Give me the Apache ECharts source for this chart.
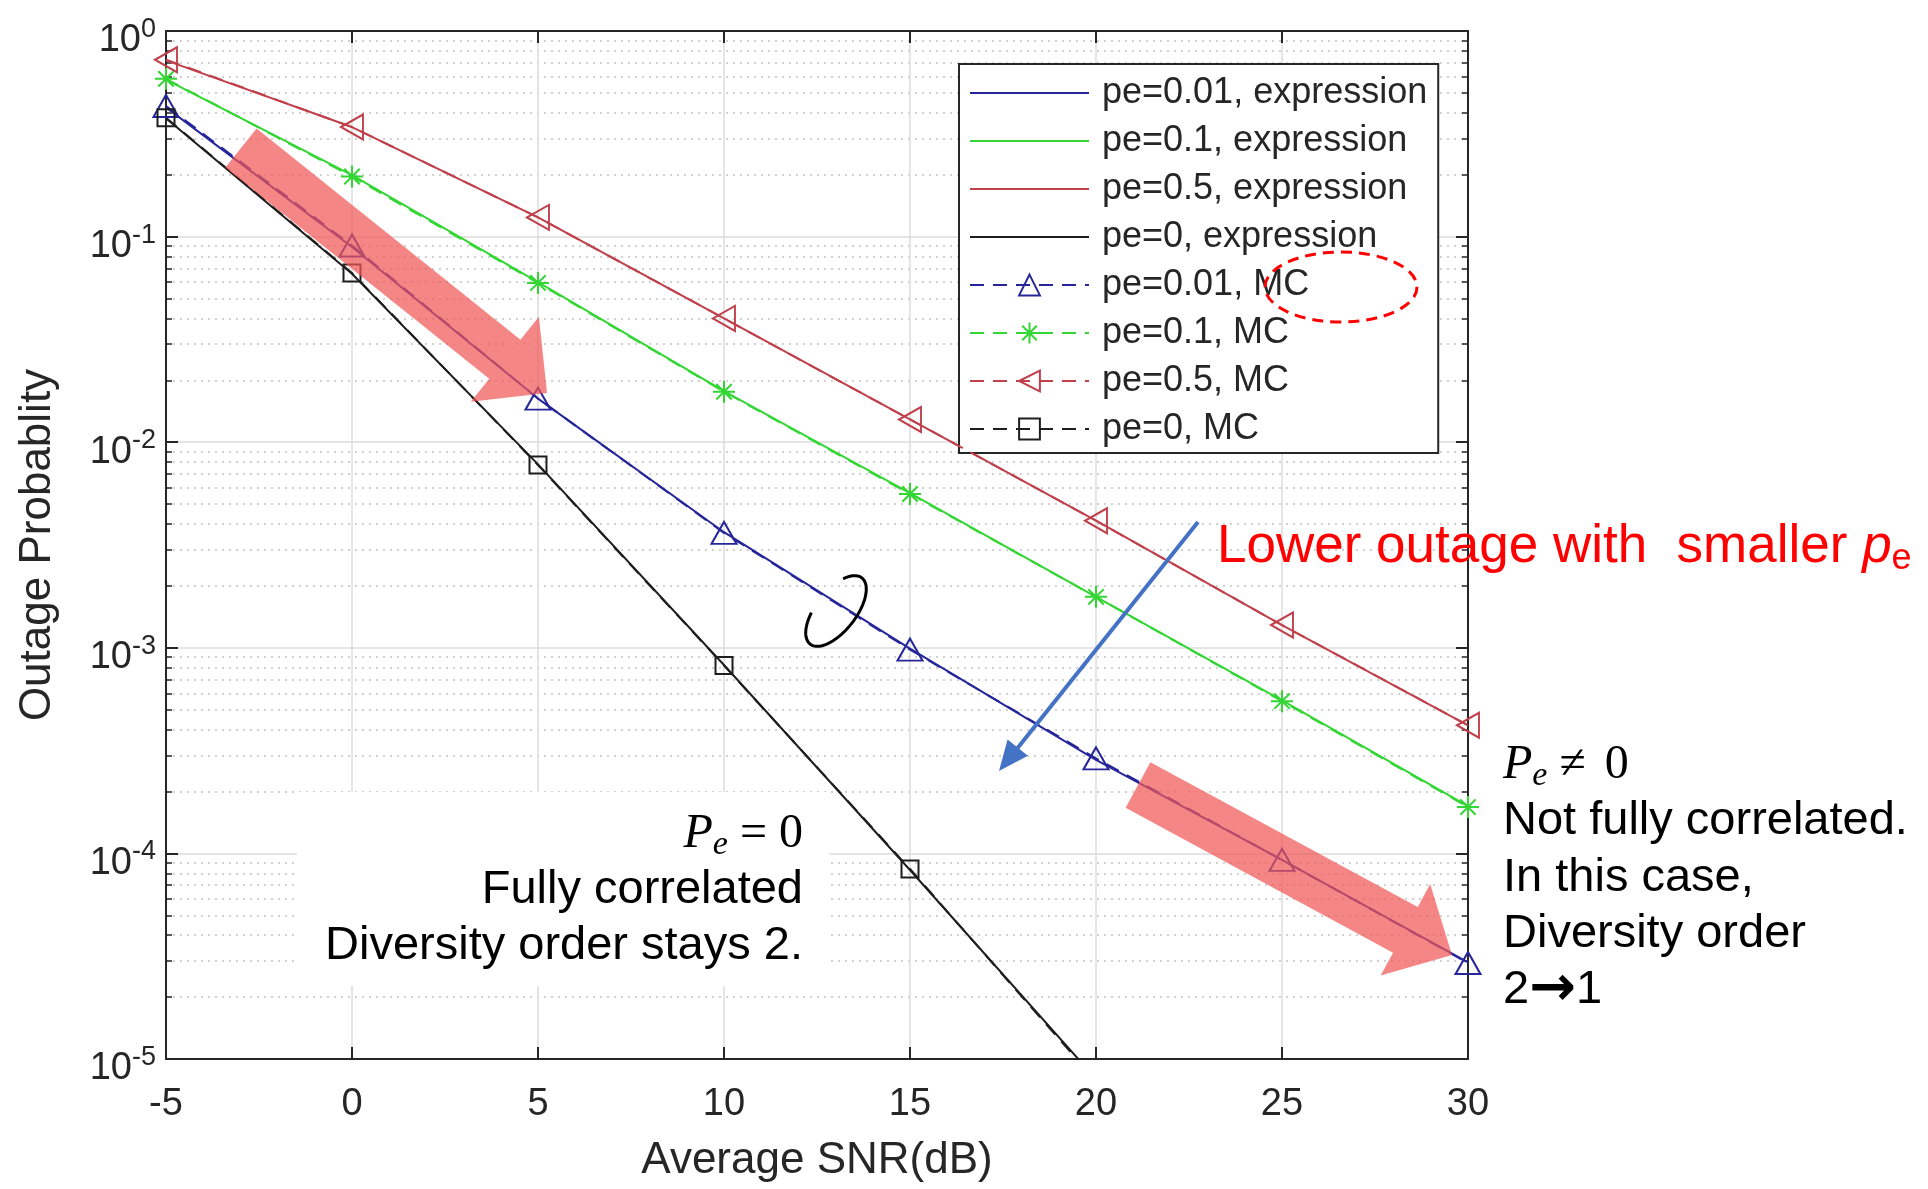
<!DOCTYPE html>
<html>
<head>
<meta charset="utf-8">
<script src="https://cdn.jsdelivr.net/npm/echarts@6/dist/echarts.min.js"></script>
<style>
html, body {margin:0; padding:0; background:#fff;}
#chart {width:1928px; height:1189px;}
</style>
</head>
<body>
<div id="chart"></div>
<script>
//	values (outage probability vs average SNR)
var snr = [-5, 0, 5, 10, 15, 20, 25, 30];
var snrPe0 = [-5, 0, 5, 10, 15, 20];

var pe001Expr = [0.425, 0.089, 0.0163, 3.65e-3, 9.9e-4, 2.85e-4, 9.3e-5, 2.95e-5];
var pe01Expr  = [0.58, 0.199, 0.0600, 0.0177, 5.65e-3, 1.77e-3, 5.55e-4, 1.70e-4];
var pe05Expr  = [0.72, 0.341, 0.124, 0.0400, 0.0129, 4.15e-3, 1.29e-3, 4.2e-4];
var pe0Expr   = [0.376, 0.066, 7.8e-3, 8.25e-4, 8.3e-5, 8.0e-6];

var pe001MC = [0.432, 0.0905, 0.0163, 3.62e-3, 9.8e-4, 2.9e-4, 9.3e-5, 2.93e-5];
var pe01MC  = [0.585, 0.196, 0.0595, 0.0176, 5.6e-3, 1.77e-3, 5.5e-4, 1.68e-4];
var pe05MC  = [0.725, 0.341, 0.124, 0.0400, 0.0129, 4.15e-3, 1.29e-3, 4.2e-4];
var pe0MC   = [0.378, 0.0665, 7.75e-3, 8.2e-4, 8.4e-5, 7.8e-6];

var seriesNames = ['pe=0.01, expression', 'pe=0.1, expression', 'pe=0.5, expression', 'pe=0, expression',
	'pe=0.01, MC', 'pe=0.1, MC', 'pe=0.5, MC', 'pe=0, MC'];

var xTicks = {min: -5, max: 30, step: 5};
var yTicks = {min: 1e-5, max: 1};

var BLUE = '#26269a', GREEN = '#33d633', RED = '#c0404c', BLACK = '#1e1e1e';
var FONT = 'Liberation Sans, Arial, sans-serif';
var SERIF = 'Liberation Serif, DejaVu Serif, serif';
var INK = '#262626';

function pairs(xs, ys) {
	var out = [];
	for(var i=0; i<ys.length; i++) out.push([xs[i], ys[i]]);
	return out;
}

function exprSeries(name, xs, ys, col) {
	return {
		name: name, type: 'line', data: pairs(xs, ys),
		symbol: 'none', z: 3,
		lineStyle: {color: col, width: 2},
		itemStyle: {color: 'rgba(0,0,0,0)', borderWidth: 0}
	};
}

function mcSeries(name, xs, ys, col, sym, size, rot) {
	return {
		name: name, type: 'line', data: pairs(xs, ys),
		symbol: sym, symbolSize: size, symbolRotate: rot || 0, showAllSymbol: true, z: 4,
		lineStyle: {color: col, width: 2, type: [14, 9]},
		itemStyle: {color: 'rgba(0,0,0,0)', borderColor: col, borderWidth: 2}
	};
}

//	annotation helpers (slide overlays, pixel positions)
function arrowPts(x1, y1, x2, y2, sw, hw, hl) {
	var dx = x2-x1, dy = y2-y1, L = Math.sqrt(dx*dx+dy*dy);
	var ux = dx/L, uy = dy/L, px = -uy, py = ux;
	var bx = x2-ux*hl, by = y2-uy*hl;
	return [[x1+px*sw/2, y1+py*sw/2], [bx+px*sw/2, by+py*sw/2], [bx+px*hw/2, by+py*hw/2],
		[x2, y2], [bx-px*hw/2, by-py*hw/2], [bx-px*sw/2, by-py*sw/2], [x1-px*sw/2, y1-py*sw/2]];
}

function ellipseArc(cx, cy, a, b, angDeg, t0, t1) {
	var th = angDeg*Math.PI/180, ux = Math.cos(th), uy = Math.sin(th), vx = -uy, vy = ux;
	var pts = [];
	for(var t=t0; t<=t1; t+=4) {
		var r = t*Math.PI/180, ca = a*Math.cos(r), sb = b*Math.sin(r);
		pts.push([cx + ca*ux + sb*vx, cy + ca*uy + sb*vy]);
	}
	return pts;
}

var myChart = echarts.init(document.getElementById('chart'));

var asterisk = 'path://M10,0L10,20M0,10L20,10M3,3L17,17M3,17L17,3';

var mathRich = {
	i: {fontFamily: SERIF, fontStyle: 'italic', fontSize: 48, fill: '#000', lineHeight: 56},
	s: {fontFamily: SERIF, fontStyle: 'italic', fontSize: 34, fill: '#000', lineHeight: 26, verticalAlign: 'bottom'},
	n: {fontFamily: SERIF, fontSize: 48, fill: '#000', lineHeight: 56},
	m: {fontFamily: SERIF, fontSize: 48, fill: '#000', lineHeight: 56, padding: [0, 0, 0, 7]}
};

var option = {
	animation: false,
	textStyle: {fontFamily: FONT},
	grid: {left: 166, right: 460, top: 31, bottom: 130, show: false, containLabel: false, outerBoundsMode: 'none'},
	legend: {
		data: seriesNames,
		orient: 'vertical',
		left: 959, top: 64,
		padding: [9, 11, 4, 10],
		itemGap: 8,
		itemWidth: 119, itemHeight: 26,
		backgroundColor: '#fff',
		borderColor: INK, borderWidth: 2,
		textStyle: {fontSize: 36, fontFamily: FONT, color: INK, lineHeight: 40, padding: [0, 0, 0, 8]}
	},
	xAxis: [{
		type: 'value', min: xTicks.min, max: xTicks.max, interval: xTicks.step,
		name: 'Average SNR(dB)', nameLocation: 'middle', nameGap: 80,
		nameTextStyle: {fontSize: 44, color: INK, fontFamily: FONT},
		axisLine: {show: true, onZero: false, lineStyle: {color: INK, width: 2}},
		axisTick: {show: true, inside: true, length: 12, lineStyle: {color: INK, width: 2}},
		axisLabel: {fontSize: 38, color: INK, margin: 27, fontFamily: FONT},
		splitLine: {show: true, lineStyle: {color: '#dcdcdc', width: 1.5}}
	}, {
		type: 'value', position: 'top', min: xTicks.min, max: xTicks.max, interval: xTicks.step,
		axisLine: {show: true, onZero: false, lineStyle: {color: INK, width: 2}},
		axisTick: {show: true, inside: true, length: 12, lineStyle: {color: INK, width: 2}},
		axisLabel: {show: false},
		splitLine: {show: false}
	}],
	yAxis: [{
		type: 'log', logBase: 10, min: yTicks.min, max: yTicks.max,
		name: 'Outage Probablity', nameLocation: 'middle', nameGap: 106,
		nameTextStyle: {fontSize: 44, color: INK, fontFamily: FONT},
		axisLine: {show: true, onZero: false, lineStyle: {color: INK, width: 2}},
		axisTick: {show: true, inside: true, length: 12, lineStyle: {color: INK, width: 2}},
		minorTick: {show: true, splitNumber: 9, length: 6, lineStyle: {color: INK, width: 1.5}},
		axisLabel: {
			margin: 10,
			padding: [18, 0, 0, 0],
			formatter: function(v) {
				var e = Math.round(Math.log(v)/Math.LN10);
				var g = (e === 0) ? 'g0' : 'g1';
				return '{s|' + e + '}\n{b|10}{' + g + '|}';
			},
			rich: {
				s: {fontSize: 27, color: INK, fontFamily: FONT, lineHeight: 2, padding: [17, 0, 0, 0]},
				b: {fontSize: 38, color: INK, fontFamily: FONT, lineHeight: 38},
				g0: {width: 15, lineHeight: 38},
				g1: {width: 24, lineHeight: 38}
			}
		},
		splitLine: {show: true, lineStyle: {color: '#dcdcdc', width: 1.5}},
		minorSplitLine: {show: true, lineStyle: {color: '#c4c4c4', width: 1.5, type: [2, 5]}}
	}, {
		type: 'log', logBase: 10, min: yTicks.min, max: yTicks.max, position: 'right',
		axisLine: {show: true, onZero: false, lineStyle: {color: INK, width: 2}},
		axisTick: {show: true, inside: true, length: 12, lineStyle: {color: INK, width: 2}},
		minorTick: {show: true, splitNumber: 9, length: 6, lineStyle: {color: INK, width: 1.5}},
		axisLabel: {show: false},
		splitLine: {show: false}
	}],
	series: [
		exprSeries(seriesNames[0], snr, pe001Expr, BLUE),
		exprSeries(seriesNames[1], snr, pe01Expr, GREEN),
		exprSeries(seriesNames[2], snr, pe05Expr, RED),
		exprSeries(seriesNames[3], snrPe0, pe0Expr, BLACK),
		mcSeries(seriesNames[4], snr, pe001MC, BLUE, 'triangle', [25, 22]),
		mcSeries(seriesNames[5], snr, pe01MC, GREEN, asterisk, 22),
		mcSeries(seriesNames[6], snr, pe05MC, RED, 'triangle', [25, 22], 90),
		mcSeries(seriesNames[7], snrPe0, pe0MC, BLACK, 'rect', 17)
	],
	graphic: [
		//	white box behind the left note
		{type: 'rect', z: 50, shape: {x: 297, y: 792, width: 532, height: 194}, style: {fill: '#fff'}},
		{type: 'text', z: 60, x: 803, y: 834, style: {
			text: '{i|P}{s|e}{n| = 0}', align: 'right', verticalAlign: 'middle', rich: mathRich}},
		{type: 'text', z: 60, x: 803, y: 890, style: {text: 'Fully correlated', font: '47px ' + FONT, fill: '#000', align: 'right', verticalAlign: 'middle'}},
		{type: 'text', z: 60, x: 803, y: 946, style: {text: 'Diversity order stays 2.', font: '47px ' + FONT, fill: '#000', align: 'right', verticalAlign: 'middle'}},
		//	right note
		{type: 'text', z: 60, x: 1503, y: 765, style: {
			text: '{i|P}{s|e}{n| \u2260 }{m|0}', align: 'left', verticalAlign: 'middle', rich: mathRich}},
		{type: 'text', z: 60, x: 1503, y: 821, style: {text: 'Not fully correlated.', font: '47px ' + FONT, fill: '#000', align: 'left', verticalAlign: 'middle'}},
		{type: 'text', z: 60, x: 1503, y: 878, style: {text: 'In this case,', font: '47px ' + FONT, fill: '#000', align: 'left', verticalAlign: 'middle'}},
		{type: 'text', z: 60, x: 1503, y: 934, style: {text: 'Diversity order', font: '47px ' + FONT, fill: '#000', align: 'left', verticalAlign: 'middle'}},
		{type: 'text', z: 60, x: 1503, y: 990, style: {
			text: '{d|2}{a|\u2192}{d|1}', align: 'left', verticalAlign: 'middle',
			rich: {
				d: {fontFamily: FONT, fontSize: 47, fill: '#000', lineHeight: 56},
				a: {fontFamily: 'DejaVu Sans, sans-serif', fontWeight: 'bold', fontSize: 56, fill: '#000', lineHeight: 56}
			}}},
		//	red note
		{type: 'text', z: 60, x: 1217, y: 547, style: {
			text: '{t|Lower outage with  smaller }{p|p}{e|e}', align: 'left', verticalAlign: 'middle',
			rich: {
				t: {fontFamily: FONT, fontSize: 53, fill: '#ff0000', lineHeight: 60},
				p: {fontFamily: FONT, fontStyle: 'italic', fontSize: 53, fill: '#ff0000', lineHeight: 60},
				e: {fontFamily: FONT, fontSize: 36, fill: '#ff0000', lineHeight: 22, verticalAlign: 'bottom'}
			}}},
		//	thick salmon arrows
		{type: 'polygon', z: 70, shape: {points: arrowPts(241, 148, 547, 393, 50, 109, 54)}, style: {fill: 'rgba(240,88,88,0.72)'}},
		{type: 'polygon', z: 70, shape: {points: arrowPts(1138, 785, 1452, 955, 52, 104, 53)}, style: {fill: 'rgba(240,88,88,0.72)'}},
		//	thin blue arrow
		{type: 'polyline', z: 70, shape: {points: [[1198, 522], [1012, 755]]}, style: {stroke: '#4472c4', lineWidth: 4}},
		{type: 'polygon', z: 70, shape: {points: arrowPts(1198, 522, 999, 771, 0, 26, 30).slice(2, 5)}, style: {fill: '#4472c4'}},
		//	black loop marking the pe=0.01 pair
		{type: 'polyline', z: 70, shape: {points: ellipseArc(836, 611, 42, 20, -52, -45, 250)}, style: {stroke: '#000', lineWidth: 3, fill: null}},
		//	red dashed ellipse inside legend
		{type: 'ellipse', z: 80, shape: {cx: 1341, cy: 287, rx: 76, ry: 35}, style: {fill: null, stroke: '#ff0000', lineWidth: 3, lineDash: [11, 7]}}
	]
};

myChart.setOption(option);
</script>
</body>
</html>
